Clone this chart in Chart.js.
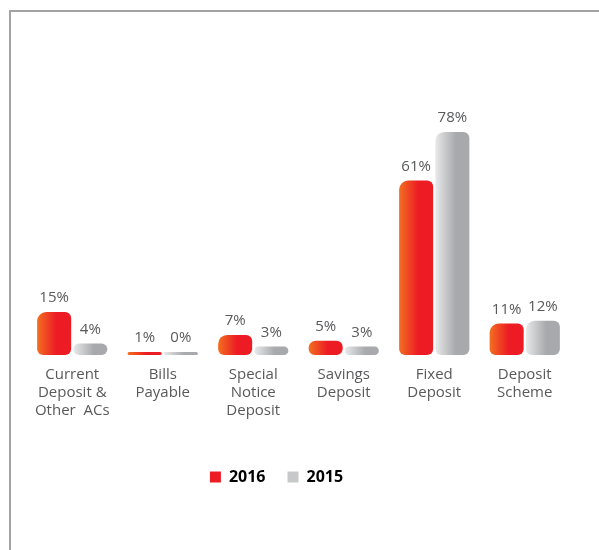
<!DOCTYPE html>
<html>
<head>
<meta charset="utf-8">
<title>Deposit mix</title>
<script src="https://cdn.jsdelivr.net/npm/chart.js@4.4.1/dist/chart.umd.min.js"></script>
<style>
  html, body { margin: 0; padding: 0; background: #fff; }
  #wrap { position: relative; width: 599px; height: 550px; }
  #frame {
    position: absolute; left: 9px; top: 10px; right: 0; bottom: 0;
    border-left: 2px solid #a3a3a3; border-top: 2px solid #a3a3a3;
  }
  canvas { position: absolute; left: 0; top: 0; }
</style>
</head>
<body>
<div id="wrap">
  <div id="frame"></div>
  <canvas id="depositChart" width="599" height="550"></canvas>
</div>
<script>
const categories = [
  ["Current", "Deposit &", "Other  ACs"],
  ["Bills", "Payable"],
  ["Special", "Notice", "Deposit"],
  ["Savings", "Deposit"],
  ["Fixed", "Deposit"],
  ["Deposit", "Scheme"]
];
const years = ["2016", "2015"];
const share2016 = [15, 1, 7, 5, 61, 11];
const share2015 = [4, 0, 3, 3, 78, 12];

const legendColors = ["#ed1c24", "#c7c8ca"];
const CAT_PCT = 0.8;
const BAR_PCT = 0.94;

// left-to-right shading across a single bar
function barGradient(c, from, to, stop) {
  const chart = c.chart;
  const x = chart.scales.x;
  if (!chart.chartArea || !x) return to;
  const slot = (x.width / categories.length) * CAT_PCT / 2;
  const center = x.getPixelForValue(c.dataIndex) + (c.datasetIndex === 0 ? -slot / 2 : slot / 2);
  const w = slot * BAR_PCT;
  const g = chart.ctx.createLinearGradient(center - w / 2, 0, center + w / 2, 0);
  g.addColorStop(0, from);
  g.addColorStop(stop, to);
  g.addColorStop(1, to);
  return g;
}

// percentage text above each bar
const valueLabels = {
  id: "valueLabels",
  afterDatasetsDraw(chart) {
    const ctx = chart.ctx;
    ctx.save();
    ctx.font = "15px 'Open Sans'";
    ctx.fillStyle = "#58595b";
    ctx.textAlign = "center";
    ctx.textBaseline = "middle";
    chart.data.datasets.forEach((ds, di) => {
      chart.getDatasetMeta(di).data.forEach((bar, i) => {
        ctx.fillText(ds.data[i] + "%", bar.x, bar.y - 14);
      });
    });
    ctx.restore();
  }
};

// nudge the legend row a little left of centre
const legendShift = {
  id: "legendShift",
  afterLayout(chart) {
    chart.legend.left -= 22;
    chart.legend.right -= 22;
  }
};

const radius = { topLeft: 9, topRight: 6, bottomLeft: 6, bottomRight: 6 };

new Chart(document.getElementById("depositChart"), {
  type: "bar",
  data: {
    labels: categories,
    datasets: [
      {
        label: years[0],
        data: share2016,
        backgroundColor: (c) => barGradient(c, "#f36f21", "#ed1c24", 0.55),
        borderRadius: radius,
        borderSkipped: false,
        minBarLength: 3,
        categoryPercentage: CAT_PCT,
        barPercentage: BAR_PCT
      },
      {
        label: years[1],
        data: share2015,
        backgroundColor: (c) => barGradient(c, "#e8e9ea", "#a7a9ac", 0.6),
        borderRadius: radius,
        borderSkipped: false,
        minBarLength: 3,
        categoryPercentage: CAT_PCT,
        barPercentage: BAR_PCT
      }
    ]
  },
  options: {
    responsive: false,
    animation: false,
    layout: { padding: { left: 27, right: 29, top: 69, bottom: 55 } },
    scales: {
      x: {
        grid: { display: false, drawTicks: false },
        border: { display: false },
        ticks: {
          color: "#58595b",
          font: { family: "'Open Sans'", size: 15, lineHeight: 1.2 },
          padding: 11,
          maxRotation: 0,
          autoSkip: false
        },
        afterFit: (s) => { s.height = 92; }
      },
      y: {
        display: false,
        min: 0,
        max: 100
      }
    },
    plugins: {
      legend: {
        position: "bottom",
        labels: {
          boxWidth: 11,
          boxHeight: 11,
          padding: 22,
          color: "#231f20",
          font: { family: "'Open Sans'", size: 16, weight: "bold" },
          generateLabels: (chart) => chart.data.datasets.map((ds, i) => ({
            text: ds.label,
            fillStyle: legendColors[i],
            strokeStyle: legendColors[i],
            lineWidth: 0,
            datasetIndex: i
          }))
        }
      },
      tooltip: { enabled: false }
    }
  },
  plugins: [valueLabels, legendShift]
});
</script>
</body>
</html>
